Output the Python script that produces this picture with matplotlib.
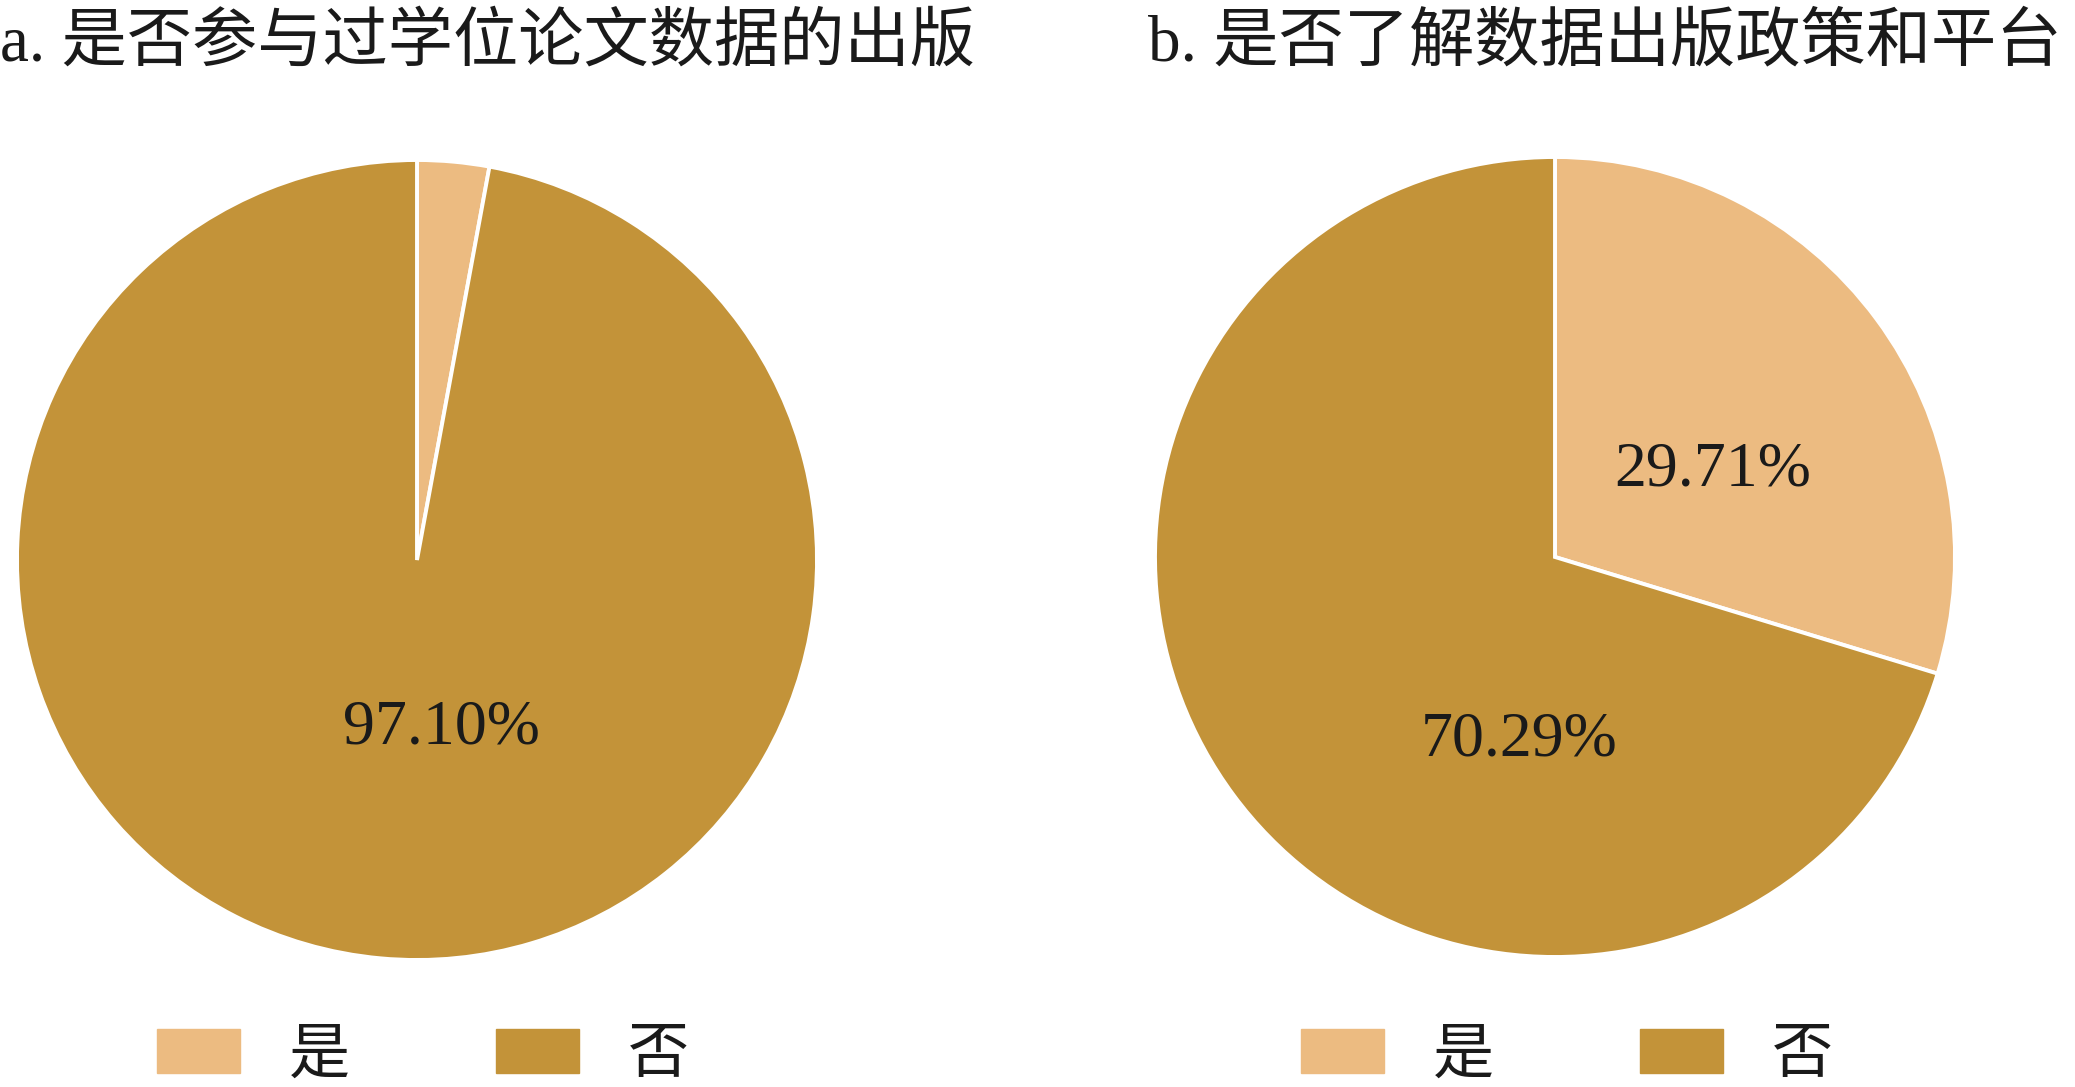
import matplotlib
matplotlib.use("Agg")
import matplotlib.pyplot as plt

plt.rcParams['font.family'] = ['Liberation Serif', 'Noto Sans CJK SC', 'DejaVu Sans']

# data
categories = ['是', '否']
colors = ['#ECBB81', '#C39339']

title_a = 'a. 是否参与过学位论文数据的出版'
values_a = [2.90, 97.10]
show_a = [False, True]

title_b = 'b. 是否了解数据出版政策和平台'
values_b = [29.71, 70.29]
show_b = [True, True]

# where the percent labels sit inside each pie (units of radius)
label_pos_a = [(0.06, 0.0), (0.06, -0.42)]
label_pos_b = [(0.395, 0.215), (-0.09, -0.46)]

W, H = 2075, 1087
fig = plt.figure(figsize=(W / 100, H / 100), dpi=100)
FS = 46
TXT = '#1a1a1a'


def draw_pie(rect, values, show, label_pos, title, title_x, legend_x):
    ax = fig.add_axes(rect)
    ax.pie(values, colors=colors, startangle=90, counterclock=False, radius=1,
           wedgeprops=dict(edgecolor='white', linewidth=2.8, clip_on=False))
    ax.set_xlim(-1.0, 1.0)
    ax.set_ylim(-1.0, 1.0)
    ax.set_aspect('equal')
    ax.axis('off')
    for v, s, (x, y) in zip(values, show, label_pos):
        if s:
            ax.text(x, y, f'{v:.2f}%', ha='center', va='center',
                    fontsize=FS, color=TXT)
    fig.text(title_x, 1 - 44 / H, title, ha='left', va='center',
             fontsize=47, color=TXT)
    handles = [plt.Rectangle((0, 0), 1, 1, color=c) for c in colors]
    ax.legend(handles, categories, loc='center', ncol=2, frameon=False,
              bbox_to_anchor=(legend_x, 1 - 1057 / H),
              bbox_transform=fig.transFigure, fontsize=44,
              handlelength=1.36, handleheight=0.75, handletextpad=0.8,
              columnspacing=2.4, labelcolor=TXT, borderpad=0.0)
    return ax


draw_pie([17 / W, (H - 960) / H, 800 / W, 800 / H], values_a, show_a,
         label_pos_a, title_a, 0.0, 423 / W)
draw_pie([1155 / W, (H - 957) / H, 800 / W, 800 / H], values_b, show_b,
         label_pos_b, title_b, 1148 / W, 1567 / W)

fig.savefig('out.png', dpi=100, facecolor='white')
